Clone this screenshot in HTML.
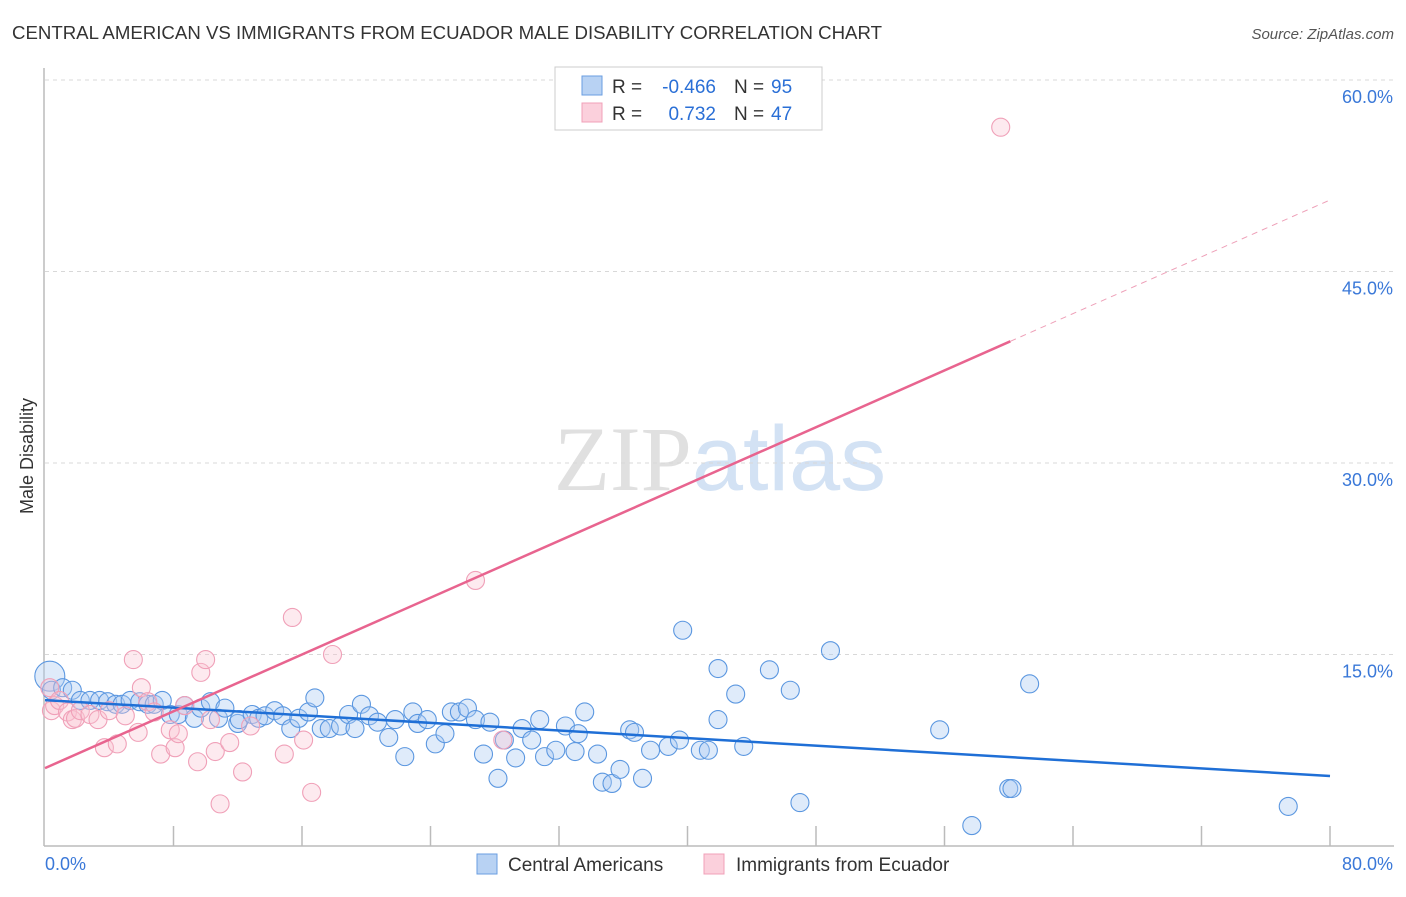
<!DOCTYPE html>
<html><head><meta charset="utf-8"><style>
body{margin:0;background:#fff;font-family:"Liberation Sans",sans-serif;}
svg text{font-family:"Liberation Sans",sans-serif;}
</style></head><body>
<svg id="chart" width="1406" height="892" xmlns="http://www.w3.org/2000/svg">
<text x="12" y="39" font-size="18" fill="#333" textLength="870" lengthAdjust="spacingAndGlyphs">CENTRAL AMERICAN VS IMMIGRANTS FROM ECUADOR MALE DISABILITY CORRELATION CHART</text>
<text x="1394" y="39" font-size="15" fill="#555" text-anchor="end" font-style="italic">Source: ZipAtlas.com</text>
<text transform="translate(33,456) rotate(-90)" font-size="18" fill="#333" text-anchor="middle">Male Disability</text>
<text x="720" y="490" font-size="92" text-anchor="middle"><tspan fill="#e0e0e0" font-family="Liberation Serif">ZIP</tspan><tspan fill="#d3e2f4">atlas</tspan></text>
<g id="grid"></g><g id="pts"></g><g id="lines"></g>
<g>
<rect x="555" y="67" width="267" height="63" fill="#fff" stroke="#ccc"/>
<rect x="582" y="76" width="20" height="19" fill="#b8d2f3" stroke="#6a9ee0"/>
<rect x="582" y="103" width="20" height="19" fill="#fbd0dc" stroke="#f0a0b8"/>
<text x="612" y="93" font-size="19" fill="#333">R =</text>
<text x="716" y="93" font-size="19" fill="#2a6fd6" text-anchor="end">-0.466</text>
<text x="734" y="93" font-size="19" fill="#333">N =</text>
<text x="771" y="93" font-size="19" fill="#2a6fd6">95</text>
<text x="612" y="120" font-size="19" fill="#333">R =</text>
<text x="716" y="120" font-size="19" fill="#2a6fd6" text-anchor="end">0.732</text>
<text x="734" y="120" font-size="19" fill="#333">N =</text>
<text x="771" y="120" font-size="19" fill="#2a6fd6">47</text>
</g>
<g>
<rect x="477" y="854" width="20" height="20" fill="#b8d2f3" stroke="#6a9ee0"/>
<text x="508" y="871" font-size="19" fill="#333">Central Americans</text>
<rect x="704" y="854" width="20" height="20" fill="#fbd0dc" stroke="#f0a0b8"/>
<text x="736" y="871" font-size="19" fill="#333">Immigrants from Ecuador</text>
</g>
</svg>
<script>
const yTicks=[15,30,45,60];
const xTickLabels=["0.0%","80.0%"];
const blueX=[0.3,0.4,1.1,1.7,2.2,2.8,3.4,3.9,4.4,4.8,5.3,5.9,6.4,6.8,7.3,7.8,8.3,8.7,9.3,9.7,10.3,10.8,11.2,12.0,12.1,12.9,13.3,13.7,14.3,14.8,15.3,15.8,16.4,16.8,17.2,17.7,18.4,18.9,19.3,19.7,20.2,20.7,21.4,21.8,22.4,22.9,23.2,23.8,24.3,24.9,25.3,25.8,26.3,26.8,27.3,27.7,28.2,28.6,29.3,29.7,30.3,30.8,31.1,31.8,32.4,33.0,33.2,33.6,34.4,34.7,35.3,35.8,36.4,36.7,37.2,37.7,38.8,39.5,39.7,40.8,41.3,41.9,41.9,43.0,43.5,45.1,46.4,47.0,48.9,55.7,57.7,60.0,60.2,61.3,77.4];
const blueY=[13.3,12.2,12.4,12.2,11.4,11.4,11.4,11.3,11.1,11.1,11.4,11.3,11.1,11.1,11.4,10.3,10.3,11.0,10.0,10.8,11.3,10.0,10.8,9.6,9.9,10.3,10.0,10.2,10.6,10.2,9.2,10.0,10.5,11.6,9.2,9.2,9.4,10.3,9.2,11.1,10.2,9.7,8.5,9.9,7.0,10.5,9.6,9.9,8.0,8.8,10.5,10.5,10.8,9.9,7.2,9.7,5.3,8.3,6.9,9.2,8.3,9.9,7.0,7.5,9.4,7.4,8.8,10.5,7.2,5.0,4.9,6.0,9.1,8.9,5.3,7.5,7.8,8.3,16.9,7.5,7.5,13.9,9.9,11.9,7.8,13.8,12.2,3.4,15.3,9.1,1.6,4.5,4.5,12.7,3.1];
const pinkX=[0.3,0.4,0.6,0.9,1.4,1.7,1.9,2.2,2.8,3.3,3.7,4.0,4.5,5.0,5.5,5.8,6.0,6.4,6.8,7.2,7.8,8.1,8.3,8.7,9.5,9.7,10.0,10.3,10.6,10.9,11.5,12.3,12.8,14.9,15.4,16.1,16.6,17.9,26.8,28.5,59.5];
const pinkY=[12.4,10.6,11.0,11.4,10.5,9.9,10.0,10.6,10.3,9.9,7.7,10.6,8.0,10.2,14.6,8.9,12.4,11.3,10.5,7.2,9.1,7.7,8.8,11.0,6.6,13.6,14.6,9.9,7.4,3.3,8.1,5.8,9.4,7.2,17.9,8.3,4.2,15.0,20.8,8.3,56.3];
const blueTrend=[11.43,5.48];
const pinkTrend=[6.1,50.6];
const pinkSolidEnd=60.1;
const NS="http://www.w3.org/2000/svg";
const X0=45,X1=1330,Y0=846;
function sx(v){return X0+(X1-X0)*v/80;}
function sy(v){return Y0-v*12.767;}
function mk(tag,attrs,parent){const e=document.createElementNS(NS,tag);for(const k in attrs)e.setAttribute(k,attrs[k]);parent.appendChild(e);return e;}
const grid=document.getElementById('grid');
yTicks.forEach(t=>{
  const l=mk('line',{x1:45,x2:1394,y1:sy(t),y2:sy(t),stroke:'#d8d8d8','stroke-dasharray':'4,4'},grid);
  
  
  const tx=mk('text',{x:1393,y:sy(t)+23,'font-size':18,fill:'#3a78d8','text-anchor':'end'},grid);
  tx.textContent=t.toFixed(1)+'%';
  
  
});
const ya=mk('line',{x1:44,x2:44,y1:68,y2:846,stroke:'#bbb','stroke-width':1.5},grid);


const xa=mk('line',{x1:44,x2:1394,y1:846,y2:846,stroke:'#bbb','stroke-width':1.5},grid);


for(let i=1;i<=10;i++){
  const t=mk('line',{x1:sx(i*8),x2:sx(i*8),y1:826,y2:846,stroke:'#bbb','stroke-width':1.5},grid);
  
  
}
[[0,45,'start'],[1,1393,'end']].forEach(([i,x,a])=>{
  const tx=mk('text',{x:x,y:870,'font-size':18,fill:'#3a78d8','text-anchor':a},grid);
  tx.textContent=xTickLabels[i];
  
  
});
const pts=document.getElementById('pts');
blueX.forEach((v,i)=>{
  const c=mk('circle',{cx:sx(v),cy:sy(blueY[i]),r:i===0?15:9,fill:'rgba(170,202,242,0.38)',stroke:'#5b97e0','stroke-width':1.1},pts);
  
  
});
pinkX.forEach((v,i)=>{
  const c=mk('circle',{cx:sx(v),cy:sy(pinkY[i]),r:9,fill:'rgba(248,195,210,0.35)',stroke:'#f0a0b8','stroke-width':1.1},pts);
  
  
});
const lines=document.getElementById('lines');
const bl=mk('line',{x1:sx(0),y1:sy(blueTrend[0]),x2:sx(80),y2:sy(blueTrend[1]),stroke:'#1f6fd6','stroke-width':2.5},lines);


const pm=(pinkTrend[1]-pinkTrend[0])/80;
const pl=mk('line',{x1:sx(0),y1:sy(pinkTrend[0]),x2:sx(pinkSolidEnd),y2:sy(pinkTrend[0]+pm*pinkSolidEnd),stroke:'#e8648f','stroke-width':2.5},lines);


const pd=mk('line',{x1:sx(pinkSolidEnd),y1:sy(pinkTrend[0]+pm*pinkSolidEnd),x2:sx(80),y2:sy(pinkTrend[1]),stroke:'#eea0b8','stroke-width':1,'stroke-dasharray':'6,5'},lines);


</script>
</body></html>
